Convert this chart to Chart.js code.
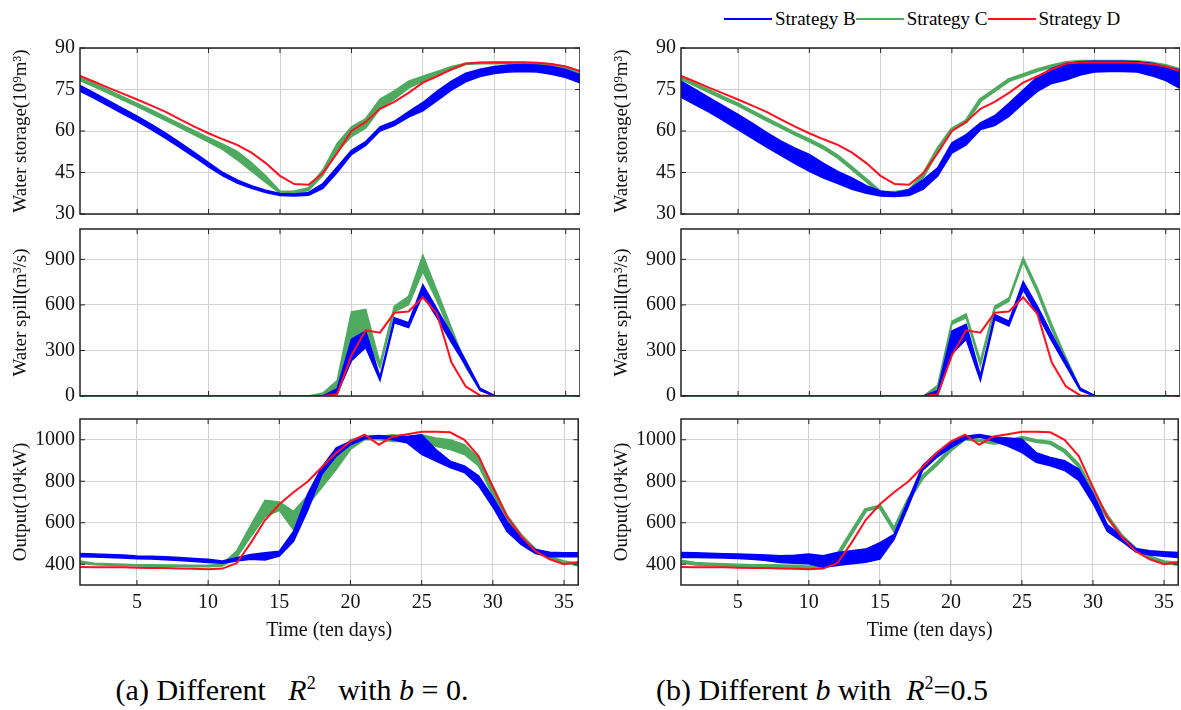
<!DOCTYPE html>
<html>
<head>
<meta charset="utf-8">
<script src="https://cdn.jsdelivr.net/npm/chart.js@4.4.0/dist/chart.umd.min.js"></script>
<style>
  body { margin: 0; background: #fff; }
  #fig { position: relative; width: 1181px; height: 710px; overflow: hidden; background: #fff;
         font-family: "Liberation Serif", "Times New Roman", serif; color: #000; }
  .panel { position: absolute; }
  .legend { position: absolute; left: 724px; top: 7px; height: 24px; display: flex; align-items: center;
            font-size: 19px; white-space: nowrap; }
  .legend .ln { display: inline-block; width: 48px; height: 2px; margin-right: 3px; }
  .cap { position: absolute; top: 675px; font-size: 30px; line-height: 30px; white-space: nowrap;
         transform: translateX(-50%); }
  .cap sup { font-size: 0.6em; line-height: 0; }
</style>
</head>
<body>
<div id="fig">
  <div class="legend">
    <span class="ln" style="background:#0000ff"></span><span>Strategy B</span>
    <span class="ln" style="background:#4daa5f"></span><span>Strategy C</span>
    <span class="ln" style="background:#ff1020"></span><span>Strategy D</span>
  </div>
  <div class="panel" style="left:0;top:31px;width:580px;height:200px"><canvas id="sa"></canvas></div>
  <div class="panel" style="left:0;top:212px;width:580px;height:201px"><canvas id="pa"></canvas></div>
  <div class="panel" style="left:0;top:402px;width:580px;height:245px"><canvas id="oa"></canvas></div>
  <div class="panel" style="left:601px;top:31px;width:579px;height:200px"><canvas id="sb"></canvas></div>
  <div class="panel" style="left:601px;top:212px;width:579px;height:201px"><canvas id="pb"></canvas></div>
  <div class="panel" style="left:601px;top:402px;width:579px;height:245px"><canvas id="ob"></canvas></div>
  <div class="cap" style="left:292px">(a) Different&nbsp;&nbsp; <i>R</i><sup>2</sup>&nbsp;&nbsp; with <i>b</i> = 0.</div>
  <div class="cap" style="left:822px">(b) Different <i>b</i> with&nbsp; <i>R</i><sup>2</sup>=0.5</div>
</div>
<script>
// time axis (ten-day periods)
const days = [1,2,3,4,5,6,7,8,9,10,11,12,13,14,15,16,17,18,19,20,21,22,23,24,25,26,27,28,29,30,31,32,33,34,35,36];
const xTicks = [5,10,15,20,25,30,35];
const storageTicks = [30,45,60,75,90];
const spillTicks = [0,300,600,900];
const outputTicks = [400,600,800,1000];

// water storage (10^9 m3)
const storageD = [79.9,77.8,75.6,73.5,71.4,69.2,66.9,64.2,61.6,59.2,57.0,55.0,52.2,48.4,43.8,40.8,40.6,44.8,52.0,60.0,63.3,68.0,70.5,73.8,77.5,79.8,82.3,84.4,84.8,84.8,84.8,84.8,84.7,84.2,83.3,81.7];
const storageBaLo = [74.4,71.8,69.0,66.2,63.5,60.5,57.3,54.0,50.6,47.0,43.8,41.2,39.3,37.8,36.7,36.5,36.8,39.3,45.0,51.5,54.8,60.0,62.0,65.0,67.3,71.0,74.8,77.8,79.7,80.8,81.3,81.5,81.3,80.5,79.3,77.4];
const storageBaHi = [76.5,73.8,71.0,68.2,65.4,62.4,59.2,55.8,52.3,48.6,45.0,42.3,40.2,38.6,37.4,37.2,37.8,41.0,47.0,53.0,56.2,61.5,63.5,67.0,70.3,74.4,78.0,80.9,82.3,83.3,83.9,84.0,83.9,83.3,82.2,80.3];
const storageCaLo = [78.3,76.0,73.6,71.2,68.8,66.3,63.8,61.2,58.6,56.0,53.3,49.6,45.5,41.4,37.5,37.5,38.5,44.0,52.5,58.0,61.0,68.0,71.5,75.5,78.0,80.3,82.0,84.0,84.3,84.3,84.3,84.3,84.0,83.3,82.0,80.5];
const storageCaHi = [79.5,77.2,74.8,72.4,70.0,67.6,65.1,62.6,60.1,57.6,55.2,52.6,48.6,43.8,38.2,38.3,39.5,46.0,55.5,61.5,64.5,71.5,74.5,78.0,79.8,81.5,83.3,84.5,84.8,84.9,84.9,84.9,84.7,84.2,83.3,81.7];
const storageBbLo = [72.2,69.5,66.7,63.7,60.5,57.3,54.2,51.2,48.2,45.4,43.0,41.0,38.9,37.5,36.5,36.3,36.7,39.0,43.7,52.0,55.0,60.5,62.0,65.3,70.0,74.3,77.2,78.4,80.2,81.3,81.5,81.5,81.3,80.0,78.2,75.4];
const storageBbHi = [78.0,75.0,72.0,69.0,66.0,62.8,59.5,56.4,53.8,51.5,48.3,45.4,43.0,40.2,38.3,37.7,38.9,42.4,46.7,55.7,58.7,62.9,65.5,70.0,74.8,79.6,82.6,84.4,85.0,85.2,85.2,85.2,85.0,84.5,83.2,82.0];
const storageCb = [79.1,76.7,74.3,71.9,69.6,66.9,64.2,61.6,59.0,56.6,54.0,50.7,46.5,42.2,37.7,37.7,38.3,44.0,53.3,60.5,63.5,71.2,74.8,78.4,80.2,82.0,83.4,84.6,85.0,85.0,85.0,85.0,84.9,84.4,83.5,82.0];

// water spill (m3/s)
const spillD = [0,0,0,0,0,0,0,0,0,0,0,0,0,0,0,0,0,0,11,268,433,417,548,557,650,541,222,63,4,0,0,0,0,0,0,0];
const spillBaLo = [0,0,0,0,0,0,0,0,0,0,0,0,0,0,0,0,0,0,15,233,320,102,483,450,667,515,352,200,37,0,0,0,0,0,0,0];
const spillBaHi = [0,0,0,0,0,0,0,0,0,0,0,0,0,0,0,0,0,0,48,374,428,125,515,483,733,570,407,233,52,4,0,0,0,0,0,0];
const spillCaLo = [0,0,0,0,0,0,0,0,0,0,0,0,0,0,0,0,0,0,59,352,407,185,554,602,820,624,407,189,37,0,0,0,0,0,0,0];
const spillCaHi = [0,0,0,0,0,0,0,0,0,0,0,0,0,0,0,0,0,20,102,554,570,215,591,657,928,689,450,211,45,4,0,0,0,0,0,0];
const spillBbLo = [0,0,0,0,0,0,0,0,0,0,0,0,0,0,0,0,0,0,4,276,374,102,504,461,700,537,363,200,37,0,0,0,0,0,0,0];
const spillBbHi = [0,0,0,0,0,0,0,0,0,0,0,0,0,0,0,0,0,0,37,428,472,135,537,493,754,591,407,233,52,4,0,0,0,0,0,0];
const spillCbLo = [0,0,0,0,0,0,0,0,0,0,0,0,0,0,0,0,0,0,48,472,515,200,570,624,885,678,439,233,40,0,0,0,0,0,0,0];
const spillCbHi = [0,0,0,0,0,0,0,0,0,0,0,0,0,0,0,0,0,0,70,493,541,233,591,646,911,711,472,254,50,4,0,0,0,0,0,0];

// output (10^4 kW)
const outputD = [387,386,386,385,383,382,382,380,378,376,379,405,503,613,689,747,799,869,937,992,1024,976,1016,1027,1039,1039,1036,1000,921,771,629,534,463,424,400,411];
const outputBaLo = [436,435,433,430,427,425,422,418,413,408,405,416,424,420,439,510,660,834,921,976,1005,1008,1000,984,929,897,866,842,779,676,558,495,452,436,436,436];
const outputBaHi = [452,450,447,445,440,438,436,433,428,424,416,432,447,455,463,558,739,869,961,992,1016,1020,1016,1016,1024,953,897,874,826,723,605,526,471,458,455,455];
const outputCaLo = [405,397,395,393,392,390,390,389,388,388,392,432,534,629,660,566,684,771,858,953,1000,1000,992,992,1000,968,953,929,874,731,605,517,460,424,408,392];
const outputCaHi = [416,405,402,400,398,397,396,395,394,394,402,463,589,708,700,655,731,842,929,1000,1016,1016,1024,1016,1024,1008,1000,976,913,779,637,545,475,439,416,405];
const outputBbLo = [433,432,431,430,428,424,418,409,405,402,385,394,402,409,425,520,678,852,915,962,1002,1013,994,970,938,891,875,852,804,694,559,512,460,444,438,433];
const outputBbHi = [457,455,453,451,449,447,445,441,443,449,441,457,465,473,504,544,709,875,938,986,1017,1025,1013,1009,1002,938,915,899,859,741,591,536,476,465,460,457];
const outputCb = [413,402,399,396,394,392,391,390,388,386,394,441,552,662,678,567,709,820,883,954,1006,997,986,991,1009,994,986,946,875,741,631,536,473,433,410,402];

const BLUE = '#0000ff', GREEN = '#4daa5f', RED = '#ff1020';
const FONT = '"Liberation Serif", "Times New Roman", serif';

function pts(vals) { return vals.map((v, i) => ({ x: days[i], y: v })); }
function line(vals, color, width, order) {
  return { data: pts(vals), borderColor: color, borderWidth: width, pointRadius: 0, tension: 0, fill: false, order: order };
}
function band(lo, hi, color, order) {
  return [line(lo, color, 1.5, order),
          Object.assign(line(hi, color, 1.5, order), { fill: '-1', backgroundColor: color })];
}

// box around the plot area with inward tick marks
const frame = {
  id: 'frame',
  afterDraw(chart) {
    const { ctx, chartArea: a, scales: { x, y } } = chart;
    ctx.save();
    ctx.strokeStyle = '#222';
    ctx.lineWidth = 1;
    ctx.beginPath();
    x.ticks.forEach(t => {
      const p = x.getPixelForValue(t.value);
      ctx.moveTo(p, a.top); ctx.lineTo(p, a.top + 5);
      ctx.moveTo(p, a.bottom); ctx.lineTo(p, a.bottom - 5);
    });
    y.ticks.forEach(t => {
      const p = y.getPixelForValue(t.value);
      ctx.moveTo(a.left, p); ctx.lineTo(a.left + 5, p);
      ctx.moveTo(a.right, p); ctx.lineTo(a.right - 5, p);
    });
    ctx.stroke();
    ctx.lineWidth = 1.5;
    ctx.strokeRect(a.left, a.top, a.right - a.left, a.bottom - a.top);
    ctx.restore();
  }
};

function panel(id, datasets, yMin, yMax, yTicks, yTitle, showX) {
  new Chart(document.getElementById(id), {
    type: 'line',
    data: { datasets: datasets },
    plugins: [frame],
    options: {
      responsive: true,
      maintainAspectRatio: false,
      animation: false,
      layout: { padding: { top: 16, bottom: showX ? 0 : 16, left: 0, right: 0 } },
      plugins: { legend: { display: false }, tooltip: { enabled: false } },
      scales: {
        x: {
          type: 'linear', min: 1, max: 36,
          afterBuildTicks: s => { s.ticks = xTicks.map(v => ({ value: v })); },
          afterFit: s => { s.height = showX ? 62 : 0; },
          grid: { color: '#d2d2d2', drawTicks: false },
          border: { display: false },
          ticks: { display: showX, autoSkip: false, maxRotation: 0, padding: 6,
                   color: '#111', font: { family: FONT, size: 20 },
                   callback: v => String(v) },
          title: { display: showX, text: 'Time (ten days)', color: '#111',
                   font: { family: FONT, size: 20 }, padding: { top: 4, bottom: 4 } }
        },
        y: {
          type: 'linear', min: yMin, max: yMax,
          afterBuildTicks: s => { s.ticks = yTicks.map(v => ({ value: v })); },
          afterFit: s => { s.width = 80; },
          grid: { color: '#d2d2d2', drawTicks: false },
          border: { display: false },
          ticks: { padding: 5, color: '#111', font: { family: FONT, size: 20 },
                   callback: v => String(v) },
          title: { display: true, text: yTitle, color: '#111',
                   font: { family: FONT, size: 19 }, padding: { top: 10, bottom: 0 } }
        }
      }
    }
  });
}

const tS = 'Water storage(10\u2079m\u00b3)';
const tP = 'Water spill(m\u00b3/s)';
const tO = 'Output(10\u2074kW)';

panel('sa', [line(storageD, RED, 2, 0), ...band(storageBaLo, storageBaHi, BLUE, 1), ...band(storageCaLo, storageCaHi, GREEN, 2)],
      30, 90, storageTicks, tS, false);
panel('pa', [line(spillD, RED, 2, 0), ...band(spillBaLo, spillBaHi, BLUE, 1), ...band(spillCaLo, spillCaHi, GREEN, 2)],
      0, 1100, spillTicks, tP, false);
panel('oa', [line(outputD, RED, 2, 0), ...band(outputBaLo, outputBaHi, BLUE, 1), ...band(outputCaLo, outputCaHi, GREEN, 2)],
      300, 1100, outputTicks, tO, true);
panel('sb', [line(storageD, RED, 2, 0), ...band(storageBbLo, storageBbHi, BLUE, 1), line(storageCb, GREEN, 4, 2)],
      30, 90, storageTicks, tS, false);
panel('pb', [line(spillD, RED, 2, 0), ...band(spillBbLo, spillBbHi, BLUE, 1), ...band(spillCbLo, spillCbHi, GREEN, 2)],
      0, 1100, spillTicks, tP, false);
panel('ob', [line(outputD, RED, 2, 0), ...band(outputBbLo, outputBbHi, BLUE, 1), line(outputCb, GREEN, 4, 2)],
      300, 1100, outputTicks, tO, true);
</script>
</body>
</html>
